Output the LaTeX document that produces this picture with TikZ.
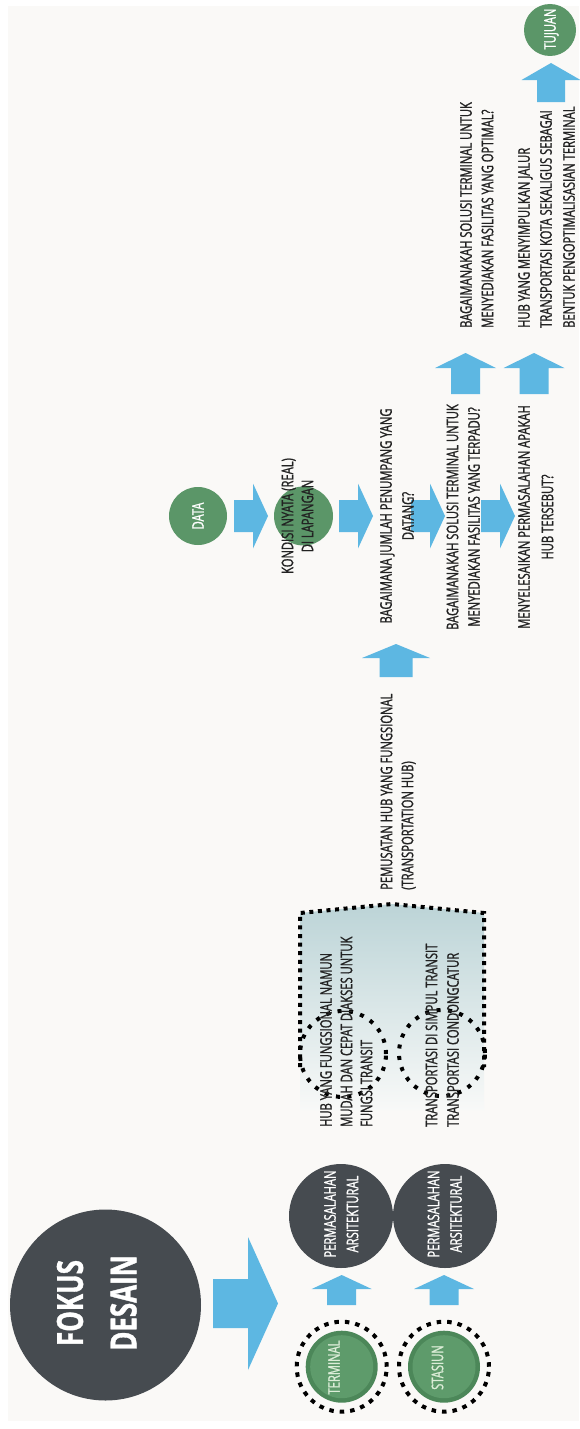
\documentclass[tikz,border=0pt]{standalone}
\usepackage{fontspec}
\newfontfamily\condf[FakeStretch=0.70,FakeBold=1.2]{Open Sans}
\newfontfamily\condbf[FakeStretch=0.72,FakeBold=1]{Open Sans}
\definecolor{bgc}{HTML}{FAF9F7}
\definecolor{darkc}{HTML}{464B50}
\definecolor{arrc}{HTML}{5DB7E2}
\definecolor{greenc}{HTML}{5B9668}
\definecolor{gdark}{HTML}{4C8759}
\definecolor{gmid}{HTML}{5E9B6B}
\definecolor{paleg}{HTML}{DCEDD8}
\definecolor{txtc}{HTML}{222222}
\definecolor{boxtop}{HTML}{BCD4D7}
\definecolor{boxbot}{HTML}{F8F9F8}
\newcommand{\uparr}[7]{%
  \coordinate (#1) at (#2,#3);
  \fill[arrc] (#1) -- ++(#4,#5) -- ++({#6-#4},0) -- ++(0,#7) -- ++({-2*#6},0)
    -- ++(0,{-#7}) -- ++({#6-#4},0) -- cycle;}
\newcommand{\rarr}[7]{%
  \coordinate (#1) at (#2,#3);
  \fill[arrc] (#1) -- ++({-#5},{-#4}) -- ++(0,{#4-#6}) -- ++({-#7},0) -- ++(0,{2*#6})
    -- ++(#7,0) -- ++(0,{#4-#6}) -- cycle;}
\tikzset{
  ln/.style={font=\condf\fontsize{16}{20}\selectfont, text=txtc, inner sep=0pt, rotate=90, anchor=base west},
  lnc/.style={ln, anchor=base},
  wln/.style={lnc, text=white},
  bigtxt/.style={font=\condbf\bfseries\fontsize{36}{40}\selectfont, text=white, inner sep=0pt, rotate=90, anchor=base},
  disc/.style={circle, inner sep=0pt, draw=none},
  dotring/.style={circle, inner sep=0pt, draw=black, line width=4pt, dash pattern=on 4.5pt off 6pt},
  dotline/.style={draw=black, line width=4pt, dash pattern=on 4pt off 4.6pt},
  dotcirc/.style={circle, inner sep=0pt, draw=black, line width=4pt, dash pattern=on 4pt off 7.5pt}
}
\begin{document}
\begin{tikzpicture}[x=1pt,y=-1pt]
\useasboundingbox (0,0) rectangle (579,1429);
\fill[white] (0,0) rectangle (579,1429);
\fill[bgc] (8,6) rectangle (579,1421);

% ---------- FOKUS DESAIN ----------
\node[disc, fill=darkc, minimum size=191pt] (fokus) at (105.5,1305) {};
\node[bigtxt] (fokusA) at (82.9,1303) {FOKUS};
\node[bigtxt] (fokusB) at (136.4,1303) {DESAIN};
\rarr{bigarr}{278}{1303.5}{66.5}{30}{24.5}{35}

% ---------- PERMASALAHAN ----------
\node[disc, fill=darkc, minimum size=104pt] (p1) at (341,1216) {};
\node[disc, fill=darkc, minimum size=104pt] (p2) at (445,1216) {};
\node[wln] (p1a) at (335.7,1214) {PERMASALAHAN};
\node[wln] (p1b) at (358.2,1214) {ARSITEKTURAL};
\node[wln] (p2a) at (439.2,1214) {PERMASALAHAN};
\node[wln] (p2b) at (461.7,1214) {ARSITEKTURAL};
\uparr{u1}{341.7}{1275}{30}{14}{14.5}{16}
\uparr{u2}{444}{1275}{30}{14}{14.5}{16}

% ---------- TERMINAL / STASIUN ----------
\node[dotring, minimum size=90pt] (t1ring) at (341.7,1366.7) {};
\node[disc, fill=gdark, minimum size=72pt] (t1) at (341.7,1366.7) {};
\node[disc, fill=gmid, minimum size=63pt] (t1in) at (341.7,1366.7) {};
\node[lnc, text=paleg] (t1t) at (339.7,1367.5) {TERMINAL};
\node[dotring, minimum size=90pt] (t2ring) at (444,1366.7) {};
\node[disc, fill=gdark, minimum size=72pt] (t2) at (444,1366.7) {};
\node[disc, fill=gmid, minimum size=63pt] (t2in) at (444,1366.7) {};
\node[lnc, text=paleg] (t2t) at (443.2,1367.5) {STASIUN};

% ---------- shaded box ----------
\shade[top color=boxtop, bottom color=boxbot] (300,913) -- (392,904) -- (484,913) -- (484,1110) -- (300,1110) -- cycle;
\draw[dotline] (300,1067) -- (300,913) -- (392,904) -- (484,913) -- (484,1067);
\node[dotcirc, minimum size=86pt] (c1) at (343,1054) {};
\node[dotcirc, minimum size=86pt] (c2) at (442,1053) {};
\node[ln] (h1) at (331.7,1127) {HUB YANG FUNGSIONAL NAMUN};
\node[ln] (h2) at (352.2,1127) {MUDAH DAN CEPAT DIAKSES UNTUK};
\node[ln] (h3) at (372.2,1127) {FUNGSI TRANSIT};
\node[ln] (s1) at (437.2,1127) {TRANSPORTASI DI SIMPUL TRANSIT};
\node[ln] (s2) at (458.7,1127) {TRANSPORTASI CONDONGCATUR};

% ---------- PEMUSATAN ----------
\node[ln] (pm1) at (392.2,890) {PEMUSATAN HUB YANG FUNGSIONAL};
\node[ln] (pm2) at (413.2,890) {(TRANSPORTATION HUB)};
\uparr{u3}{396}{644}{34}{14}{16.5}{19}

% ---------- middle row ----------
\node[disc, fill=greenc, minimum size=58pt] (data) at (198,516) {};
\node[wln] (datat) at (203.7,516) {DATA};
\node[disc, fill=greenc, minimum size=59pt] (kond) at (303.5,516) {};
\rarr{a1}{268}{516}{32.5}{15}{16}{19}
\rarr{a2}{373}{516}{32.5}{15}{16}{19}
\rarr{a3}{445}{516}{32.5}{15}{16}{19}
\rarr{a4}{515}{516}{32.5}{15}{16}{19}
\node[lnc] (k1) at (293.2,516) {KONDISI NYATA (REAL)};
\node[lnc] (k2) at (313.2,516) {DI LAPANGAN};
\node[lnc] (b1) at (391.7,516) {BAGAIMANA JUMLAH PENUMPANG YANG};
\node[lnc] (b2) at (413.7,516) {DATANG?};
\node[lnc] (q1) at (458.2,517) {BAGAIMANAKAH SOLUSI TERMINAL UNTUK};
\node[lnc] (q2) at (479.7,517) {MENYEDIAKAN FASILITAS YANG TERPADU?};
\node[lnc] (m1) at (529.7,517) {MENYELESAIKAN PERMASALAHAN APAKAH};
\node[lnc] (m2) at (553.2,517) {HUB TERSEBUT?};

% ---------- top ----------
\uparr{u4}{465.5}{353}{30.5}{15}{14.5}{26}
\uparr{u5}{534}{353}{30.5}{15}{14.5}{26}
\node[ln] (o1) at (471.7,328) {BAGAIMANAKAH SOLUSI TERMINAL UNTUK};
\node[ln] (o2) at (493.2,328) {MENYEDIAKAN FASILITAS YANG OPTIMAL?};
\node[ln] (g1) at (529.7,328) {HUB YANG MENYIMPULKAN JALUR};
\node[ln] (g2) at (551.7,328) {TRANSPORTASI KOTA SEKALIGUS SEBAGAI};
\node[ln] (g3) at (574.7,328) {BENTUK PENGOPTIMALISASIAN TERMINAL};
\uparr{u6}{551}{63}{29.5}{17}{14}{22}
\node[disc, fill=greenc, minimum size=52pt] (tuj) at (550,30) {};
\node[wln] (tujt) at (555.7,29) {TUJUAN};
\end{tikzpicture}
\end{document}
